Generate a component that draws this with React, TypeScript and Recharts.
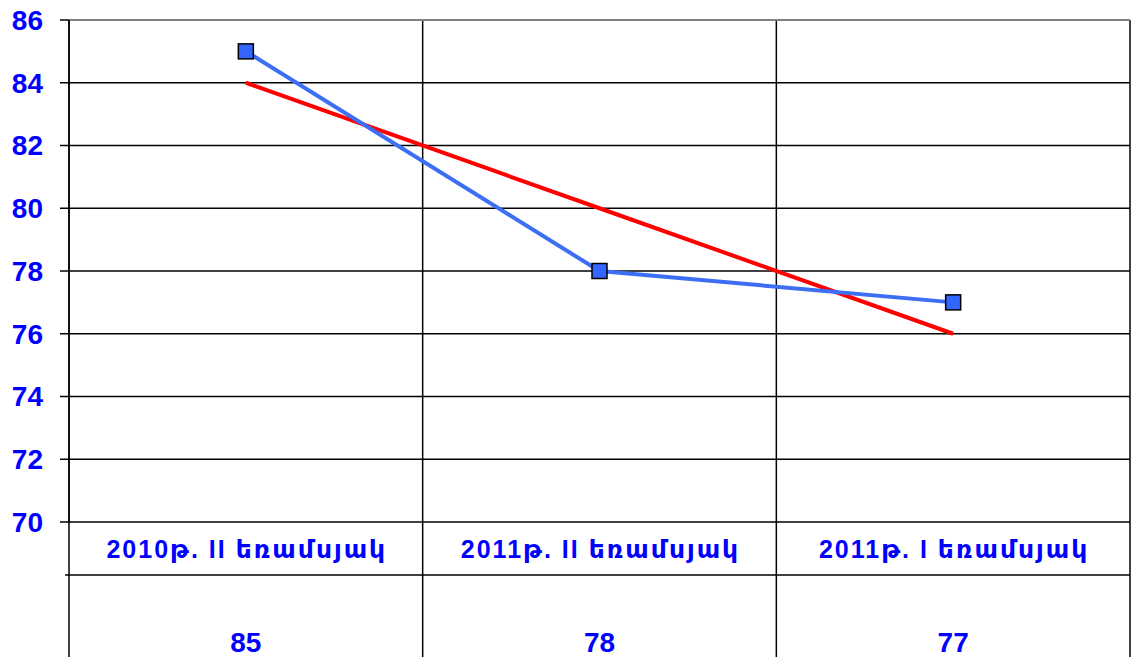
import React from 'react';
import { LineChart, Line, XAxis, YAxis, CartesianGrid, ReferenceLine } from 'recharts';

const categories = ['2010թ. II եռամսյակ', '2011թ. II եռամսյակ', '2011թ. I եռամսյակ'];
const actualValues = [85, 78, 77];
const trendValues = [84, 80, 76];
const yTicks = [70, 72, 74, 76, 78, 80, 82, 84, 86];

const data = categories.map((name, i) => ({
  name,
  actual: actualValues[i],
  trend: trendValues[i],
}));

const W = 1132;
const H = 657;
const LEFT = 69;
const RIGHT = 1130;
const TABLE_H = 135;
const BAND = (RIGHT - LEFT) / categories.length;
const FONT = '"Liberation Sans", Arial, "DejaVu Sans", sans-serif';
const TEXT_BLUE = '#0000ff';

// square marker for the actual series
const SquareDot = (props: any) => {
  const { cx, cy } = props;
  if (cx == null || cy == null) return null;
  return <rect x={cx - 7.5} y={cy - 7.5} width={15} height={15} fill="#3366ff" stroke="#000" strokeWidth={1.5} />;
};

// data table under the plot: category row + value row
const TableTick = (props: any) => {
  const { x, y, index } = props;
  const left = x - BAND / 2;
  const right = x + BAND / 2;
  return (
    <g>
      <line x1={left} y1={y} x2={left} y2={y + TABLE_H} stroke="#000" strokeWidth={1.5} />
      {index === categories.length - 1 && (
        <line x1={right} y1={y} x2={right} y2={y + TABLE_H} stroke="#000" strokeWidth={1.5} />
      )}
      <line x1={index === 0 ? left - 4 : left} y1={y + 53} x2={right} y2={y + 53} stroke="#000" strokeWidth={1.5} />
      <text
        x={x + 1}
        y={y + 36}
        textAnchor="middle"
        fill={TEXT_BLUE}
        fontSize={25}
        letterSpacing={2}
        fontWeight="bold"
        fontFamily={FONT}
      >
        {categories[index]}
      </text>
      <text x={x} y={y + 130} textAnchor="middle" fill={TEXT_BLUE} fontSize={28} fontWeight="bold" fontFamily={FONT}>
        {actualValues[index]}
      </text>
    </g>
  );
};

export default function App() {
  return (
    <div style={{ position: 'absolute', left: 0, top: 0, width: W, height: H, background: '#fff' }}>
      <LineChart width={W} height={H} data={data} margin={{ top: 20, right: W - RIGHT, left: 0, bottom: 0 }}>
        <CartesianGrid
          stroke="#000"
          strokeWidth={1.5}
          verticalCoordinatesGenerator={() => [LEFT, LEFT + BAND, LEFT + 2 * BAND, RIGHT]}
        />
        <XAxis
          dataKey="name"
          scale="band"
          height={TABLE_H}
          axisLine={false}
          tickLine={false}
          tickSize={0}
          tickMargin={0}
          interval={0}
          tick={<TableTick />}
        />
        <YAxis
          width={LEFT}
          domain={[70, 86]}
          ticks={yTicks}
          interval={0}
          axisLine={{ stroke: '#000', strokeWidth: 1.5 }}
          tickLine={{ stroke: '#000', strokeWidth: 1.5 }}
          tickSize={9}
          tickMargin={17}
          tick={{ fill: TEXT_BLUE, fontSize: 28, fontWeight: 'bold', fontFamily: FONT }}
        />
        <ReferenceLine y={86} stroke="#808080" strokeWidth={2} />
        <Line
          dataKey="trend"
          stroke="#ff0000"
          strokeWidth={4}
          dot={false}
          activeDot={false}
          isAnimationActive={false}
        />
        <Line
          dataKey="actual"
          stroke="#3d6ff5"
          strokeWidth={4}
          dot={<SquareDot />}
          activeDot={false}
          isAnimationActive={false}
        />
      </LineChart>
    </div>
  );
}
